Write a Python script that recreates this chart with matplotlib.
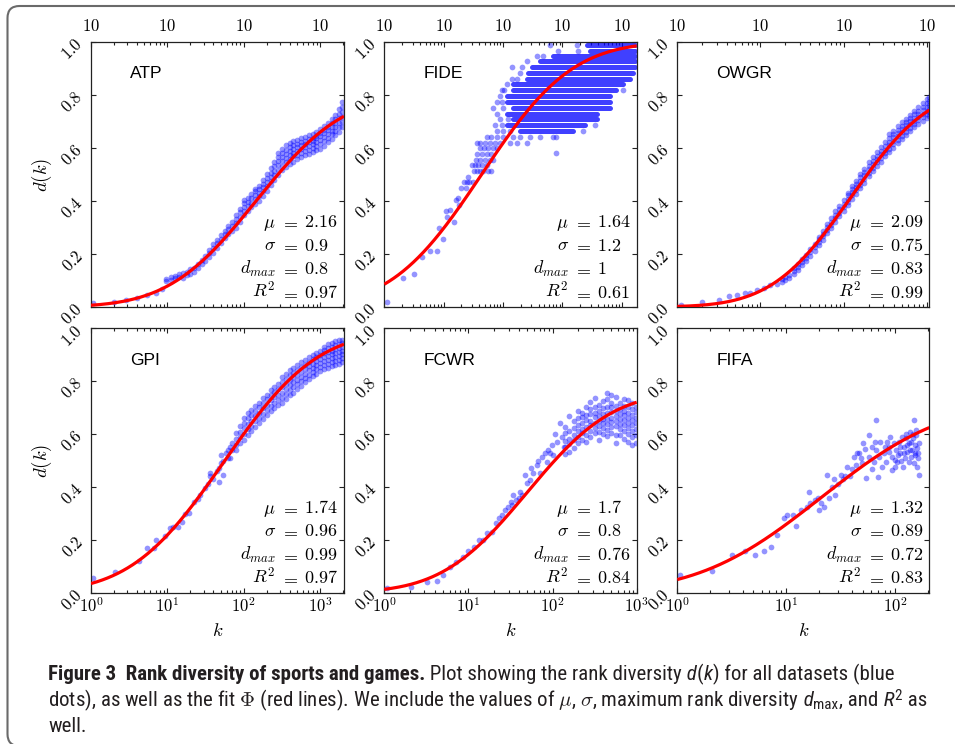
import math
import numpy as np
import matplotlib
matplotlib.use('Agg')
import matplotlib.pyplot as plt
import matplotlib.font_manager as fm
from matplotlib.ticker import LogLocator, FuncFormatter, NullFormatter
from matplotlib.patches import FancyBboxPatch
from matplotlib.transforms import IdentityTransform

plt.rcParams['mathtext.fontset'] = 'cm'
plt.rcParams['font.family'] = ['DejaVu Sans']

# ------------------------------------------------------------------ data
names = ['ATP', 'FIDE', 'OWGR', 'GPI', 'FCWR', 'FIFA']
mu = [2.16, 1.64, 2.09, 1.74, 1.7, 1.32]
sigma = [0.9, 1.2, 0.75, 0.96, 0.8, 0.89]
d_max = [0.8, 1, 0.83, 0.99, 0.76, 0.72]
r_squared = [0.97, 0.61, 0.99, 0.97, 0.84, 0.83]
k_max = [2050, 18000, 1075, 2050, 1000, 205]

y_ticks = [0.0, 0.2, 0.4, 0.6, 0.8, 1.0]
y_tick_labels = ['0.0', '0.2', '0.4', '0.6', '0.8', '1.0']

# ATP: rank k and the d(k) values read at that rank
atp_k = [1.05, 2.0, 2.9, 4.0, 5.4, 7.0, 8.6,
         9.6, 11, 12.5, 14, 16, 18, 20, 22, 25, 28, 31, 35, 40, 45, 50, 56, 63, 71,
         79, 89, 100, 112, 126, 141, 158, 178, 200, 224, 251, 282, 316, 355, 398,
         447, 501, 562, 631, 708, 794, 891, 1000, 1122, 1259, 1413, 1585, 1778, 1950]
atp_d = [[0.014], [0.02], [0.027], [0.034], [0.046], [0.053], [0.068],
         [0.097, 0.104], [0.101, 0.112], [0.108, 0.117], [0.113, 0.124], [0.109, 0.127],
         [0.121, 0.133], [0.126, 0.142], [0.133, 0.148], [0.149, 0.163], [0.162, 0.177],
         [0.174, 0.192], [0.188, 0.203, 0.214], [0.204, 0.221, 0.238], [0.223, 0.241, 0.252],
         [0.243, 0.257, 0.271], [0.259, 0.274, 0.288], [0.276, 0.293, 0.307], [0.288, 0.304, 0.322],
         [0.298, 0.316, 0.332, 0.347], [0.322, 0.338, 0.357, 0.371],
         [0.346, 0.362, 0.379, 0.393, 0.404], [0.363, 0.381, 0.396, 0.411],
         [0.377, 0.394, 0.412, 0.426], [0.388, 0.406, 0.421, 0.436, 0.447],
         [0.401, 0.417, 0.432, 0.446, 0.458], [0.419, 0.436, 0.452, 0.466, 0.478],
         [0.438, 0.456, 0.471, 0.487, 0.502], [0.459, 0.476, 0.492, 0.507, 0.523],
         [0.478, 0.497, 0.514, 0.531, 0.547], [0.498, 0.518, 0.534, 0.551, 0.566, 0.582],
         [0.516, 0.533, 0.551, 0.566, 0.581, 0.597], [0.528, 0.547, 0.563, 0.579, 0.594, 0.611],
         [0.539, 0.557, 0.574, 0.589, 0.602, 0.618], [0.548, 0.568, 0.583, 0.598, 0.611, 0.627],
         [0.559, 0.574, 0.588, 0.602, 0.616, 0.632], [0.566, 0.583, 0.598, 0.611, 0.624, 0.637],
         [0.573, 0.589, 0.604, 0.616, 0.628, 0.643], [0.579, 0.594, 0.608, 0.621, 0.634, 0.648],
         [0.584, 0.601, 0.614, 0.627, 0.639, 0.653], [0.591, 0.608, 0.623, 0.636, 0.647, 0.661],
         [0.598, 0.616, 0.631, 0.644, 0.657, 0.671], [0.609, 0.626, 0.641, 0.655, 0.668, 0.682],
         [0.621, 0.638, 0.654, 0.668, 0.681, 0.696], [0.633, 0.651, 0.666, 0.681, 0.694, 0.709],
         [0.648, 0.664, 0.679, 0.694, 0.709, 0.726], [0.661, 0.679, 0.696, 0.712, 0.729, 0.748],
         [0.678, 0.698, 0.718, 0.737, 0.756, 0.772]]

# FIDE: scattered dots
fide_k = [1.1, 2.1, 3.2, 4.3, 6.0, 7.6, 8.5, 9.6, 11, 11.5, 12.8, 14.9, 16.2, 17.2, 18.3, 19.4,
          22, 24, 24.5, 26, 27, 31,
          32, 36, 41, 47, 56, 64,
          30, 34, 38, 44, 53,
          35, 41, 50, 60, 69,
          37, 44, 53, 64,
          41, 48, 56, 69, 78,
          36, 41, 50, 60, 74, 89, 132, 170, 251,
          800,
          53, 64, 78, 102, 148, 195, 288, 417, 708, 776,
          620, 1740, 855, 1860, 370, 480, 250, 140, 207, 194, 140, 170, 115, 95, 105, 10400,
          89, 78, 95, 69, 100, 80, 89, 120, 74, 95, 78, 100, 130, 2250, 3550]
fide_d = [0.019, 0.108, 0.124, 0.19, 0.213, 0.213, 0.297, 0.256, 0.361, 0.339, 0.367, 0.319, 0.405, 0.41, 0.386, 0.449,
          0.471, 0.449, 0.471, 0.491, 0.471, 0.471,
          0.513, 0.513, 0.513, 0.513, 0.513, 0.513,
          0.535, 0.535, 0.535, 0.535, 0.535,
          0.554, 0.554, 0.554, 0.554, 0.554,
          0.576, 0.576, 0.576, 0.576,
          0.599, 0.599, 0.599, 0.599, 0.599,
          0.62, 0.62, 0.62, 0.62, 0.62, 0.62, 0.62, 0.62, 0.62,
          0.58,
          0.643, 0.643, 0.643, 0.643, 0.643, 0.643, 0.643, 0.643, 0.643, 0.643,
          0.987, 0.987, 0.966, 0.966, 0.947, 0.947, 0.927, 0.905, 0.905, 0.884, 0.862, 0.862, 0.84, 0.818, 0.818, 0.818,
          0.796, 0.774, 0.774, 0.752, 0.752, 0.73, 0.708, 0.708, 0.686, 0.686, 0.664, 0.664, 0.664, 0.664, 0.686]
# FIDE: dense rows of dots (quantised d values), from rank kmin to kmax
fide_row_d = [0.987, 0.966, 0.947, 0.927, 0.905, 0.884, 0.862, 0.840, 0.818, 0.796, 0.774, 0.752, 0.730, 0.708, 0.686, 0.664]
fide_row_kmin = [2570, 2920, 705, 420, 304, 267, 251, 149, 149, 115, 115, 149, 115, 149, 115, 194]
fide_row_kmax = [16800, 16800, 16800, 16800, 16800, 15700, 13800, 10700, 8200, 6350, 6350, 6350, 3800, 3800, 2400, 1530]

owgr_k = [1.1, 2.0, 3.2, 4.2, 5.2, 6.5, 7.5, 9, 11, 13, 15.8,
          18, 20, 22, 25, 28, 32, 35, 40, 45, 50, 56, 63, 71, 79, 89, 100,
          112, 126, 141, 158, 178, 200, 224, 251, 282, 316, 355, 398, 447, 501, 562,
          631, 708, 794, 891, 1000, 1065]
owgr_d = [[0.008], [0.019], [0.028], [0.042], [0.047], [0.053], [0.051], [0.063], [0.07], [0.082], [0.088],
          [0.094, 0.104], [0.101, 0.112], [0.109, 0.121], [0.124, 0.136, 0.146], [0.139, 0.151, 0.161],
          [0.158, 0.171, 0.181], [0.174, 0.186, 0.197], [0.194, 0.206, 0.217], [0.213, 0.226, 0.237],
          [0.234, 0.246, 0.257, 0.266], [0.254, 0.267, 0.276, 0.287], [0.279, 0.291, 0.302, 0.312],
          [0.298, 0.311, 0.322, 0.336], [0.319, 0.334, 0.346, 0.361], [0.343, 0.356, 0.371, 0.382],
          [0.363, 0.376, 0.389, 0.402],
          [0.384, 0.396, 0.409, 0.421, 0.432], [0.408, 0.421, 0.434, 0.446, 0.457],
          [0.428, 0.441, 0.454, 0.466, 0.477], [0.449, 0.462, 0.476, 0.489, 0.501],
          [0.468, 0.484, 0.497, 0.509, 0.522], [0.493, 0.506, 0.519, 0.532, 0.546],
          [0.513, 0.526, 0.539, 0.552, 0.566], [0.533, 0.546, 0.558, 0.571, 0.586],
          [0.549, 0.563, 0.577, 0.589, 0.602], [0.568, 0.582, 0.594, 0.608, 0.621],
          [0.584, 0.598, 0.611, 0.624, 0.637, 0.651], [0.601, 0.614, 0.627, 0.641, 0.654, 0.666],
          [0.618, 0.631, 0.644, 0.657, 0.669, 0.682], [0.633, 0.646, 0.659, 0.672, 0.684, 0.697],
          [0.648, 0.661, 0.674, 0.686, 0.697, 0.711],
          [0.663, 0.676, 0.689, 0.701, 0.712, 0.726], [0.679, 0.691, 0.702, 0.714, 0.727, 0.741],
          [0.691, 0.704, 0.716, 0.729, 0.741, 0.756], [0.703, 0.716, 0.729, 0.742, 0.756, 0.771],
          [0.714, 0.728, 0.741, 0.756, 0.769, 0.786], [0.719, 0.734, 0.748, 0.762, 0.776, 0.792]]

gpi_k = [1.07, 2.05, 4.2, 5.4, 6.6, 7.2, 9.3, 10.7, 12, 13.8, 15.5, 17, 19, 22, 25, 27, 31, 34,
         36, 40, 44, 47, 51, 54, 58, 62, 66, 70,
         79, 89, 100, 112, 126, 141, 158, 178, 200, 224, 251, 282, 316, 355, 398,
         447, 501, 562, 631, 708, 794, 891, 1000, 1122, 1259, 1413, 1585, 1778, 1950]
gpi_d = [[0.054], [0.08], [0.12], [0.168], [0.168], [0.2], [0.214], [0.243], [0.25], [0.25], [0.268],
         [0.297], [0.3], [0.344], [0.355], [0.37], [0.395], [0.41],
         [0.44, 0.452], [0.43], [0.462], [0.42, 0.47], [0.49, 0.52], [0.445, 0.5], [0.53],
         [0.51, 0.54], [0.51, 0.55], [0.54, 0.565],
         [0.538, 0.559, 0.581, 0.603], [0.566, 0.588, 0.609, 0.632],
         [0.579, 0.601, 0.622, 0.643, 0.661], [0.597, 0.618, 0.638, 0.659, 0.679],
         [0.611, 0.632, 0.651, 0.672, 0.691], [0.627, 0.648, 0.668, 0.689, 0.708],
         [0.641, 0.662, 0.681, 0.701, 0.719], [0.657, 0.677, 0.698, 0.717, 0.736],
         [0.671, 0.692, 0.711, 0.731, 0.749], [0.686, 0.707, 0.727, 0.746, 0.766],
         [0.698, 0.719, 0.739, 0.758, 0.778], [0.709, 0.729, 0.749, 0.769, 0.788],
         [0.718, 0.738, 0.757, 0.777, 0.797, 0.814], [0.731, 0.751, 0.769, 0.789, 0.807, 0.828],
         [0.746, 0.766, 0.785, 0.804, 0.823, 0.841],
         [0.757, 0.777, 0.796, 0.814, 0.832, 0.851], [0.769, 0.788, 0.806, 0.824, 0.842, 0.861],
         [0.781, 0.799, 0.817, 0.834, 0.852, 0.871], [0.797, 0.813, 0.829, 0.846, 0.862, 0.879],
         [0.808, 0.824, 0.841, 0.857, 0.873, 0.891], [0.818, 0.835, 0.851, 0.866, 0.882, 0.899],
         [0.829, 0.846, 0.861, 0.876, 0.891, 0.906], [0.838, 0.854, 0.869, 0.884, 0.899, 0.914],
         [0.846, 0.861, 0.876, 0.891, 0.906, 0.919, 0.931], [0.851, 0.866, 0.881, 0.896, 0.911, 0.926, 0.941],
         [0.856, 0.871, 0.886, 0.901, 0.916, 0.931, 0.946], [0.861, 0.876, 0.891, 0.906, 0.921, 0.936, 0.951],
         [0.866, 0.881, 0.896, 0.911, 0.926, 0.941, 0.956], [0.871, 0.886, 0.901, 0.916, 0.931, 0.946, 0.957]]

fcwr_k = [1.07, 2.1, 3.2, 4.2, 5.0, 6.0, 7.2, 8.7, 10, 11.5,
          13.2, 15.1, 16.6, 19, 21, 23, 25, 27, 29.5, 32,
          33, 34, 37, 40, 41, 43, 47, 49, 54, 56,
          59, 65, 68, 71, 74, 81, 85, 89, 93, 98,
          102, 107, 112, 123, 129, 135,
          141, 158, 178, 200, 224, 251, 282, 316, 355, 398, 447, 501, 562, 631, 708, 794, 891, 977]
fcwr_d = [[0.016], [0.02], [0.042], [0.045], [0.067], [0.098], [0.117], [0.136], [0.159], [0.174],
          [0.2], [0.2], [0.224], [0.231], [0.262], [0.281], [0.294], [0.313], [0.325], [0.344],
          [0.33], [0.37], [0.35], [0.36], [0.382], [0.37], [0.445], [0.414], [0.426], [0.47],
          [0.451], [0.483], [0.5], [0.451], [0.514], [0.527], [0.496], [0.54], [0.53], [0.56],
          [0.52], [0.6], [0.571], [0.64], [0.59], [0.55],
          [0.523, 0.551, 0.572, 0.604, 0.628], [0.534, 0.562, 0.583, 0.611, 0.667],
          [0.546, 0.577, 0.598, 0.622, 0.648], [0.567, 0.588, 0.612, 0.634, 0.659, 0.687],
          [0.578, 0.603, 0.618, 0.641, 0.663, 0.679], [0.569, 0.598, 0.627, 0.652, 0.671, 0.701],
          [0.587, 0.613, 0.634, 0.651, 0.674, 0.693, 0.722], [0.603, 0.622, 0.642, 0.663, 0.681, 0.702, 0.738],
          [0.578, 0.608, 0.631, 0.649, 0.668, 0.687, 0.709], [0.601, 0.624, 0.641, 0.658, 0.676, 0.697, 0.724],
          [0.592, 0.617, 0.638, 0.657, 0.679, 0.703, 0.731, 0.757], [0.603, 0.626, 0.644, 0.662, 0.683, 0.701, 0.719, 0.748],
          [0.568, 0.598, 0.629, 0.648, 0.668, 0.687, 0.708, 0.741], [0.597, 0.619, 0.637, 0.656, 0.674, 0.693, 0.716],
          [0.582, 0.611, 0.633, 0.652, 0.671, 0.689, 0.707, 0.733], [0.571, 0.602, 0.624, 0.643, 0.662, 0.681, 0.703, 0.728],
          [0.558, 0.587, 0.612, 0.634, 0.653, 0.672, 0.693, 0.719], [0.566, 0.597, 0.621, 0.641, 0.662, 0.684, 0.703]]

fifa_k = [1.05, 2.1, 3.2, 4.2, 5.2, 6.3, 7.2, 8.3, 9.5, 10.2,
          11.5, 12.3, 13.5, 15.5, 16.2, 16.6, 18.2, 19.5, 20, 21,
          22.4, 23.4, 24.5, 26.3, 27.5, 28.2, 30, 31.6, 33, 34.7,
          36.3, 38, 39.8, 41.7, 43.7, 44.7,
          46.3, 48, 49.7, 53.2, 57.1, 61.3, 61.3, 63.5, 66.7, 69.5,
          70.5, 73, 75.5, 78.3, 81.1, 82.2, 86.9, 90, 93.3, 96.6,
          98.6, 101.4, 103.6, 107.2, 111.1, 115, 116.7, 119.2, 123.4, 126,
          128.6, 132.4, 134.2, 137, 139.9, 141.9, 143.9, 146.9, 150, 152.1,
          154.2, 157.6, 158.7, 161, 163.3, 163.3, 155.3, 147.9, 100, 93.3,
          84, 65.7, 105, 110, 120, 128, 135, 145, 150, 160,
          140, 125, 88, 112, 50, 57.1, 66, 53.7]
fifa_d = [0.067, 0.083, 0.142, 0.159, 0.142, 0.159, 0.174, 0.218, 0.281, 0.294,
          0.294, 0.252, 0.313, 0.325, 0.382, 0.338, 0.351, 0.357, 0.313, 0.34,
          0.325, 0.445, 0.357, 0.401, 0.429, 0.37, 0.411, 0.445, 0.429, 0.441,
          0.477, 0.441, 0.467, 0.514, 0.483, 0.527,
          0.527, 0.508, 0.489, 0.542, 0.515, 0.552, 0.467, 0.496, 0.540, 0.439,
          0.515, 0.571, 0.477, 0.527, 0.552, 0.496, 0.533, 0.590, 0.515, 0.565,
          0.477, 0.540, 0.496, 0.571, 0.527, 0.590, 0.477, 0.552, 0.508, 0.584,
          0.533, 0.496, 0.565, 0.609, 0.515, 0.540, 0.584, 0.489, 0.559, 0.521,
          0.596, 0.477, 0.546, 0.508, 0.445, 0.567, 0.615, 0.653, 0.502, 0.464,
          0.571, 0.571, 0.52, 0.55, 0.53, 0.56, 0.54, 0.6, 0.53, 0.53,
          0.57, 0.6, 0.55, 0.5, 0.565, 0.596, 0.653, 0.433]


def flatten(ks, cols):
    xs, ys = [], []
    for k, col in zip(ks, cols):
        for d in col:
            xs.append(k)
            ys.append(d)
    return xs, ys


scatter_data = [flatten(atp_k, atp_d), (fide_k, fide_d), flatten(owgr_k, owgr_d),
                flatten(gpi_k, gpi_d), flatten(fcwr_k, fcwr_d), (fifa_k, fifa_d)]

# ------------------------------------------------------------------ figure
W, H = 955, 744
fig = plt.figure(figsize=(W / 100, H / 100), dpi=100)
fig.patch.set_facecolor('white')

col_x = [(91, 344), (384.3, 636.7), (677.3, 929.3)]
row_y = [(42, 307), (328.3, 592.7)]

BLUE = '#0000ff'
RED = '#ff0000'
SPINE = '#222222'
names_fonts = {f.name for f in fm.fontManager.ttflist}
label_family = 'Liberation Sans' if 'Liberation Sans' in names_fonts else 'DejaVu Sans'

erf_v = np.vectorize(math.erf)
axes = []
for i in range(6):
    r, c = divmod(i, 3)
    x0, x1 = col_x[c]
    y0, y1 = row_y[r]
    ax = fig.add_axes([x0 / W, 1 - y1 / H, (x1 - x0) / W, (y1 - y0) / H])
    axes.append(ax)
    ax.set_xscale('log')
    ax.set_xlim(1, k_max[i])
    ax.set_ylim(0, 1)

    xs, ys = scatter_data[i]
    ax.scatter(xs, ys, s=17, color=BLUE, alpha=0.42, linewidths=0, zorder=2)
    if names[i] == 'FIDE':
        ax.hlines(fide_row_d, fide_row_kmin, fide_row_kmax, colors=BLUE, alpha=0.75,
                  linewidth=3.6, capstyle='round', zorder=2)

    kk = np.logspace(0, math.log10(k_max[i]), 400)
    fit = d_max[i] * 0.5 * (1 + erf_v((np.log10(kk) - mu[i]) / (sigma[i] * math.sqrt(2))))
    ax.plot(kk, fit, color=RED, lw=2.3, zorder=3, solid_capstyle='butt')

    for sp in ax.spines.values():
        sp.set_color(SPINE)
        sp.set_linewidth(0.9)
    ax.xaxis.set_major_locator(LogLocator(base=10, numticks=12))
    ax.xaxis.set_minor_locator(LogLocator(base=10, subs=np.arange(2, 10), numticks=12))
    ax.xaxis.set_minor_formatter(NullFormatter())
    ax.tick_params(which='both', direction='in', top=True, bottom=True, left=True, right=True,
                   color=SPINE, width=0.8)
    ax.tick_params(which='major', length=3.6)
    ax.tick_params(which='minor', length=2.0)
    if r == 0:
        ax.xaxis.set_major_formatter(FuncFormatter(lambda v, p: r'$10$'))
        ax.tick_params(axis='x', labeltop=True, labelbottom=False, labelsize=12, pad=5)
    else:
        ax.xaxis.set_major_formatter(
            FuncFormatter(lambda v, p: r'$10^{%d}$' % int(round(math.log10(v)))))
        ax.tick_params(axis='x', labelsize=12, pad=3)
        ax.set_xlabel(r'$k$', fontsize=13.5, labelpad=4)
    ax.set_yticks(y_ticks)
    ax.set_yticklabels(['$' + s + '$' for s in y_tick_labels], rotation=45, fontsize=12)
    ax.tick_params(axis='y', pad=3)
    if c == 0:
        ax.set_ylabel(r'$d(k)$', fontsize=13.5, labelpad=3)

    ax.text(0.155, 0.88, names[i], transform=ax.transAxes, fontsize=12.5,
            family=label_family, ha='left', va='center', color='black')

# ------------------------------------------------------------------ stats blocks
renderer = fig.canvas.get_renderer()
STAT_FS = 13
for i, ax in enumerate(axes):
    bb = ax.get_window_extent(renderer)
    syms = [r'$\mu$', r'$\sigma$', r'$d_{max}$', r'$R^2$']
    vals = [str(mu[i]), str(sigma[i]), str(d_max[i]), str(r_squared[i])]
    ys = [0.302, 0.213, 0.124, 0.035]
    widths = []
    for v in vals:
        t = ax.text(0, 0, '$' + v + '$', fontsize=STAT_FS, transform=ax.transAxes)
        widths.append(t.get_window_extent(renderer).width)
        t.remove()
    xv = 0.975 - max(widths) / bb.width
    xe = xv - 14.5 / bb.width
    xs_ = xe - 13.5 / bb.width
    for s, v, yy in zip(syms, vals, ys):
        ax.text(xs_, yy, s, fontsize=STAT_FS, transform=ax.transAxes, ha='right', va='baseline')
        ax.text(xe, yy, r'$=$', fontsize=STAT_FS, transform=ax.transAxes, ha='center', va='baseline')
        ax.text(xv, yy, '$' + v + '$', fontsize=STAT_FS, transform=ax.transAxes, ha='left', va='baseline')

# ------------------------------------------------------------------ frame
frame = FancyBboxPatch((7.5, -2), 990, 740, boxstyle='round,pad=0,rounding_size=12',
                       transform=IdentityTransform(), facecolor='none', edgecolor='#6a6a6a',
                       linewidth=1.5, zorder=-5)
fig.patches.append(frame)

# ------------------------------------------------------------------ caption
if 'Liberation Sans Narrow' in names_fonts:
    cap_family = 'Liberation Sans Narrow'
elif 'Roboto Condensed' in names_fonts:
    cap_family = 'Roboto Condensed'
else:
    cap_family = 'Liberation Sans'
CAP_COLOR = '#231f20'

line1 = [('Figure 3  Rank diversity of sports and games.', 'b'),
         (' Plot showing the rank diversity', 'n'), (' d', 'i'), ('(', 'n'), ('k', 'i'),
         (') for all datasets (blue', 'n')]
line2 = [(r'dots), as well as the fit $\Phi$ (red lines). We include the values of $\mu$, $\sigma$, maximum rank diversity', 'n'),
         (' d', 'i'), ('max', 'sub'), (', and', 'n'), (' R', 'i'), ('2', 'sup'), (' as', 'n')]
line3 = [('well.', 'n')]


def draw_line(runs, x0, y0, size, keep=True):
    x = x0
    made = []
    for txt, kind in runs:
        kw = dict(fontsize=size, color=CAP_COLOR, family=cap_family, ha='left', va='baseline',
                  math_fontfamily='cm')
        dy = 0
        if kind == 'b':
            kw['fontweight'] = 'bold'
        elif kind == 'i':
            kw['fontstyle'] = 'italic'
        elif kind == 'sub':
            kw['fontsize'] = size * 0.72
            dy = -3
        elif kind == 'sup':
            kw['fontsize'] = size * 0.72
            dy = 6
        t = fig.text(x, y0 + dy, txt, transform=IdentityTransform(), **kw)
        x = t.get_window_extent(renderer).x1 + (1.0 if kind in ('sub', 'sup') else 0.0)
        made.append(t)
    if not keep:
        for t in made:
            t.remove()
    return x - x0


base = 13.0
w2 = draw_line(line2, 48, 38, base, keep=False)
cap_size = base * 877.0 / w2
draw_line(line1, 48, 64, cap_size)
draw_line(line2, 48, 38, cap_size)
draw_line(line3, 48, 12, cap_size)

fig.savefig('out.png', dpi=100, facecolor='white')
